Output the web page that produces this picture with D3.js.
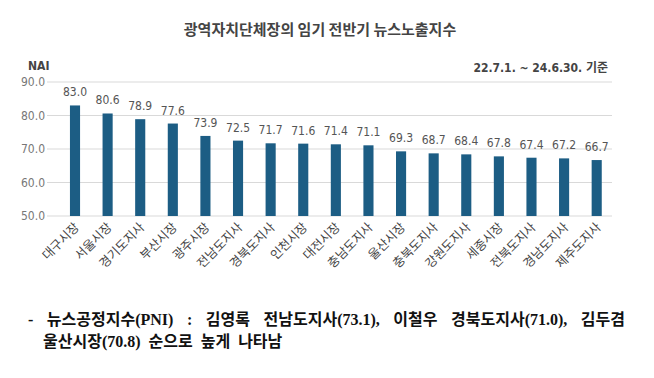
<!DOCTYPE html>
<html>
<head>
<meta charset="utf-8">
<script src="https://cdn.jsdelivr.net/npm/d3@7"></script>
<style>
body{margin:0;background:#fff;}
svg{display:block;}
.cond{font-family:"Liberation Sans Narrow","DejaVu Sans Condensed","Noto Sans CJK KR",sans-serif;}
</style>
</head>
<body>
<script>
var regions=["대구시장","서울시장","경기도지사","부산시장","광주시장","전남도지사","경북도지사","인천시장","대전시장","충남도지사","울산시장","충북도지사","강원도지사","세종시장","전북도지사","경남도지사","제주도지사"]
var nai=[83.0,80.6,78.9,77.6,73.9,72.5,71.7,71.6,71.4,71.1,69.3,68.7,68.4,67.8,67.4,67.2,66.7]
var yTicks=[50,60,70,80,90]

var drawChart=function()
{
  var screen={width:654,height:378}
  var svg=d3.select("body").append("svg")
            .attr("width",screen.width)
            .attr("height",screen.height)
  var xScale=d3.scaleBand()
               .domain(regions)
               .range([58.7,613])
               .paddingInner(0.69)
               .paddingOuter(0.345)
  var yScale=d3.scaleLinear()
               .domain([50,90])
               .range([216,82])
  // gridlines
  svg.append("g").selectAll("line")
     .data(yTicks).enter().append("line")
     .attr("x1",47).attr("x2",612)
     .attr("y1",function(d){return yScale(d)})
     .attr("y2",function(d){return yScale(d)})
     .attr("stroke","#d9d9d9").attr("stroke-width",1.2)
  svg.append("g").selectAll("text")
     .data(yTicks).enter().append("text")
     .classed("cond",true)
     .attr("x",45).attr("y",function(d){return yScale(d)+4})
     .attr("text-anchor","end").attr("font-size",12).attr("fill","#777")
     .text(function(d){return d.toFixed(1)})
  svg.append("g").selectAll("rect")
     .data(nai).enter().append("rect")
     .attr("x",function(d,i){return xScale(regions[i])})
     .attr("y",function(d){return yScale(d)})
     .attr("width",xScale.bandwidth())
     .attr("height",function(d){return yScale(50)-yScale(d)})
     .attr("fill","#1c5d84")
  svg.append("g").selectAll("text")
     .data(nai).enter().append("text")
     .classed("cond",true)
     .attr("x",function(d,i){return xScale(regions[i])+xScale.bandwidth()/2})
     .attr("y",function(d){return yScale(d)-9})
     .attr("text-anchor","middle").attr("font-size",12).attr("fill","#555")
     .text(function(d){return d.toFixed(1)})
  svg.append("g").selectAll("text")
     .data(regions).enter().append("text")
     .attr("transform",function(d){return "translate("+(xScale(d)+xScale.bandwidth()/2+5)+",228) rotate(-45)"})
     .attr("text-anchor","end").attr("font-size",12.5)
     .attr("font-family","Noto Sans CJK KR").attr("fill","#444")
     .text(function(d){return d})
  svg.append("text")
     .attr("x",320).attr("y",35).attr("text-anchor","middle")
     .attr("font-family","Noto Sans CJK KR").attr("font-weight","bold")
     .attr("font-size",15).attr("fill","#444")
     .text("광역자치단체장의 임기 전반기 뉴스노출지수")
  svg.append("text").classed("cond",true)
     .attr("x",28).attr("y",70).attr("font-weight","bold")
     .attr("font-size",12).attr("fill","#444").text("NAI")
  svg.append("text").classed("cond",true)
     .attr("x",608).attr("y",72).attr("text-anchor","end").attr("font-weight","bold")
     .attr("font-size",12).attr("fill","#444").text("22.7.1. ~ 24.6.30. 기준")
  var note=svg.append("g")
              .attr("font-family","Liberation Serif, Noto Sans CJK KR")
              .attr("font-weight","bold").attr("font-size",16).attr("fill","#111")
  var line1=note.append("text").attr("x",28).attr("y",325)
      .text("- 뉴스공정지수(PNI) : 김영록 전남도지사(73.1), 이철우 경북도지사(71.0), 김두겸")
  // spread words so the line runs to the right edge
  var natural=line1.node().getComputedTextLength()
  var gaps=line1.text().split(" ").length-1
  line1.style("word-spacing",((597-natural)/gaps)+"px")
  note.append("text").attr("x",43).attr("y",347)
      .style("word-spacing","4px")
      .text("울산시장(70.8) 순으로 높게 나타남")
}
drawChart()
</script>
</body>
</html>
